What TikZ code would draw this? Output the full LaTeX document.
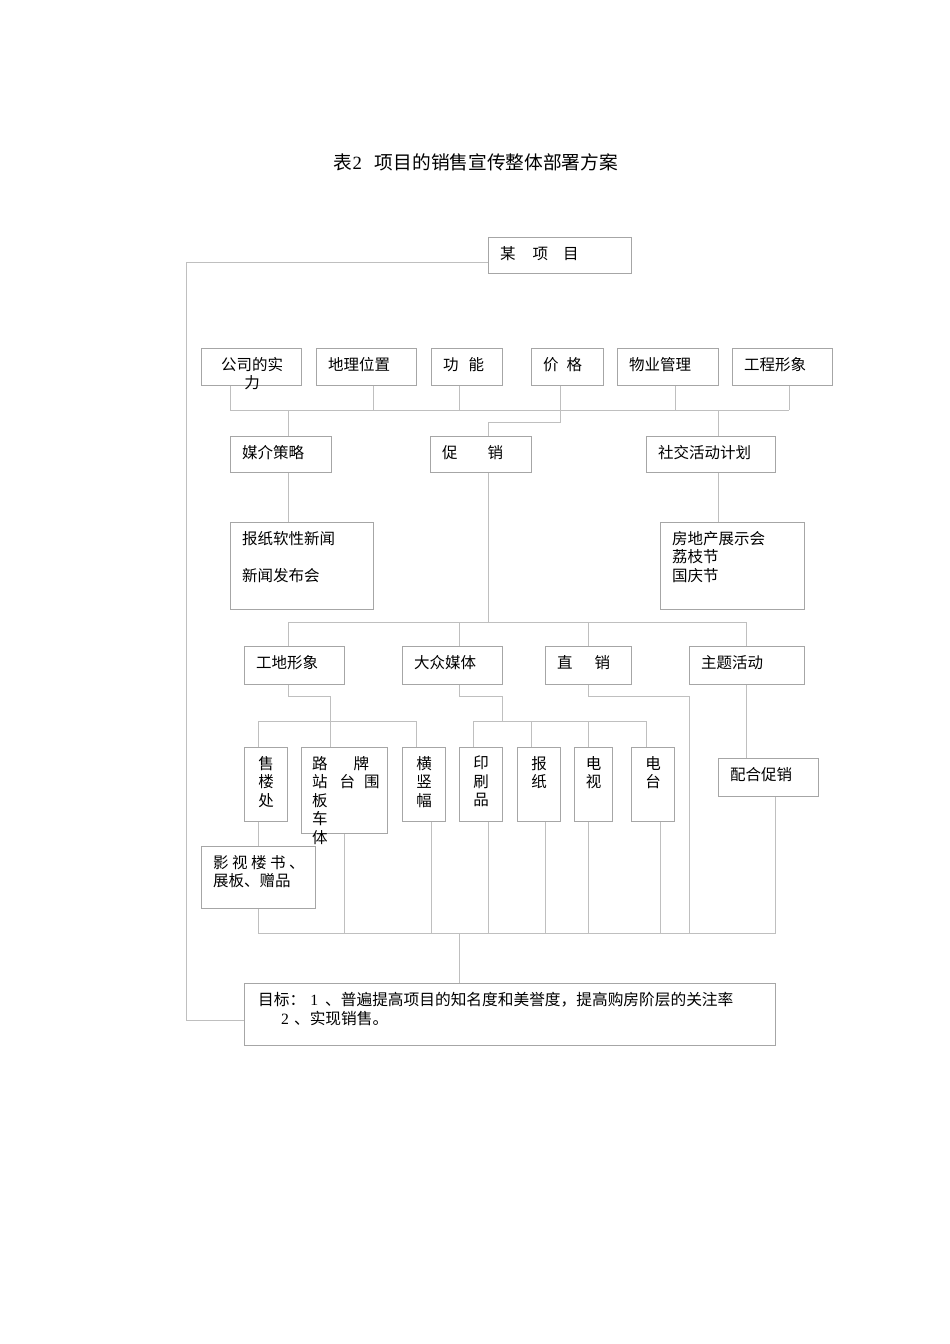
\documentclass[tikz,border=0pt]{standalone}
\usepackage{fontspec}
\setmainfont{Liberation Serif}
\newfontfamily\cjk{Noto Sans CJK SC}
\usetikzlibrary{positioning,calc}
\colorlet{boxgray}{gray!70}
\colorlet{linkgray}{gray!50}
\newcommand\cnfont{\fontsize{15.5}{18.5}\selectfont\cjk}

\begin{document}
\begin{tikzpicture}[x=1pt,y=-1pt,
  box/.style n args={2}{draw=boxgray, line width=1pt, anchor=north west, minimum width=#1pt, minimum height=#2pt, inner sep=0pt},
  txt/.style={anchor=north west, align=left, inner sep=0pt, xshift=12pt, yshift=-9pt, font=\cnfont},
  vtxt/.style={anchor=north, align=center, inner sep=0pt, yshift=-9pt, font=\cnfont},
  link/.style={draw=linkgray, line width=1pt}]
\useasboundingbox (0,0) rectangle (950,1344);

\node[font=\fontsize{18.7}{22}\selectfont\cjk, name=title] at (476,162) {表{\rmfamily 2}\hspace{13pt}项目的销售宣传整体部署方案};

\node[box={143}{36}, label={[txt]north west:某\hspace{17pt}项\hspace{15pt}目}, name=proj] at (488,237) {};

\node[box={100}{37}, label={[txt, xshift=8pt, align=center]north west:公司的实\\力}, name=gongsi] at (201,348) {};
\node[box={100}{37}, label={[txt]north west:地理位置}, name=diwei] at (316,348) {};
\node[box={71}{37}, label={[txt]north west:功\hspace{10pt}能}, name=gongneng] at (431,348) {};
\node[box={72}{37}, label={[txt]north west:价\hspace{8pt}格}, name=jiage] at (531,348) {};
\node[box={101}{37}, label={[txt]north west:物业管理}, name=wuye] at (617,348) {};
\node[box={100}{37}, label={[txt]north west:工程形象}, name=gongcheng] at (732,348) {};

\node[box={101}{36}, label={[txt]north west:媒介策略}, name=meijie] at (230,436) {};
\node[box={101}{36}, label={[txt]north west:促\hspace{30pt}销}, name=cuxiao] at (430,436) {};
\node[box={129}{36}, label={[txt]north west:社交活动计划}, name=shejiao] at (646,436) {};

\node[box={143}{87}, label={[txt]north west:报纸软性新闻\\[19pt]新闻发布会}, name=baozhi] at (230,522) {};
\node[box={144}{87}, label={[txt]north west:房地产展示会\\荔枝节\\国庆节}, name=fangdichan] at (660,522) {};

\node[box={100}{38}, label={[txt]north west:工地形象}, name=gongdi] at (244,646) {};
\node[box={100}{38}, label={[txt]north west:大众媒体}, name=dazhong] at (402,646) {};
\node[box={86}{38}, label={[txt]north west:直\hspace{22pt}销}, name=zhixiao] at (545,646) {};
\node[box={115}{38}, label={[txt]north west:主题活动}, name=zhuti] at (689,646) {};

\node[box={43}{74}, label={[vtxt]north:售\\楼\\处}, name=shoulou] at (244,747) {};
\node[box={86}{86}, label={[txt, xshift=-1pt]north west:路\hspace{26pt}牌\\站\hspace{12pt}台\hspace{9pt}围\\板\\车\\体}, name=lupai] at (301,747) {};
\node[box={43}{74}, label={[vtxt]north:横\\竖\\幅}, name=hengshu] at (402,747) {};
\node[box={43}{74}, label={[vtxt]north:印\\刷\\品}, name=yinshua] at (459,747) {};
\node[box={43}{74}, label={[vtxt]north:报\\纸}, name=bz] at (517,747) {};
\node[box={38}{74}, label={[vtxt]north:电\\视}, name=dianshi] at (574,747) {};
\node[box={43}{74}, label={[vtxt]north:电\\台}, name=diantai] at (631,747) {};
\node[box={100}{38}, label={[txt]north west:配合促销}, name=peihe] at (718,758) {};

\node[box={114}{62}, label={[txt]north west:影\hspace{3.5pt}视\hspace{3.5pt}楼\hspace{3.5pt}书\hspace{3.5pt}、\\展板、赠品}, name=yingshi] at (201,846) {};

\node[box={531}{62}, label={[txt, xshift=2pt, font=\fontsize{15.7}{18.5}\selectfont\cjk]north west:目标：\hspace{5pt}{\rmfamily 1}\hspace{7pt}、普遍提高项目的知名度和美誉度，提高购房阶层的关注率\\\hspace{23pt}{\rmfamily 2}\hspace{5pt}、实现销售。}, name=goal] at (244,983) {};

% left rail from the project to the goal
\coordinate (rail) at (186,0);
\coordinate (projout) at ([yshift=12pt]proj.south west);
\coordinate (goalin) at ([yshift=-6pt]goal.west);
\draw[link] (projout) -- (projout -| rail) -- (goalin -| rail) -- (goalin);

% factors
\coordinate (bar1) at (0,410);
\foreach \n/\x in {gongsi/230,diwei/373,gongneng/459,jiage/560,wuye/675,gongcheng/789}
  \draw[link] (\n.south -| \x,0) -- (bar1 -| \x,0);
\draw[link] (bar1 -| 230,0) -- (bar1 -| 789,0);
\coordinate (kink) at (488,422);
\draw[link] (jiage.south -| 560,0) |- (kink) -- (cuxiao.north -| kink);
\draw[link] (bar1 -| 288,0) -- (meijie.north -| 288,0);
\draw[link] (meijie.south -| 288,0) -- (baozhi.north -| 288,0);
\draw[link] (bar1 -| 718,0) -- (shejiao.north -| 718,0);
\draw[link] (shejiao.south -| 718,0) -- (fangdichan.north -| 718,0);

% promotion
\coordinate (bar2) at (0,622);
\draw[link] (cuxiao.south -| kink) -- (bar2 -| kink);
\draw[link] (bar2 -| 288,0) -- (bar2 -| 746,0);
\foreach \n/\x in {gongdi/288,dazhong/459.5,zhixiao/588,zhuti/746}
  \draw[link] (bar2 -| \x,0) -- (\n.north -| \x,0);

\coordinate (bar3) at (0,696);
\coordinate (bar4) at (0,721);
\draw[link] (gongdi.south -| 288,0) |- (bar3 -| 330.7,0) -- (lupai.north -| 330.7,0);
\draw[link] (bar4 -| 258,0) -- (bar4 -| 416.5,0);
\draw[link] (bar4 -| 258,0) -- (shoulou.north -| 258,0);
\draw[link] (bar4 -| 416.5,0) -- (hengshu.north -| 416.5,0);
\draw[link] (dazhong.south -| 459.5,0) |- (bar3 -| 502,0) -- (bar4 -| 502,0);
\draw[link] (bar4 -| 473,0) -- (bar4 -| 646,0);
\foreach \n/\x in {yinshua/473,bz/531,dianshi/588,diantai/646}
  \draw[link] (bar4 -| \x,0) -- (\n.north -| \x,0);

% everything meets at the goal
\coordinate (bar5) at (0,933);
\draw[link] (zhixiao.south -| 588,0) |- (bar3 -| 689,0) -- (bar5 -| 689,0);
\draw[link] (zhuti.south -| 746,0) -- (peihe.north -| 746,0);
\draw[link] (shoulou.south -| 258,0) -- (yingshi.north -| 258,0);
\foreach \n/\x in {yingshi/258,lupai/344,hengshu/431,yinshua/488.5,bz/545,dianshi/588,diantai/660.6,peihe/775.5}
  \draw[link] (\n.south -| \x,0) -- (bar5 -| \x,0);
\draw[link] (bar5 -| 258,0) -- (bar5 -| 775.5,0);
\draw[link] (bar5 -| 459.5,0) -- (goal.north -| 459.5,0);
\end{tikzpicture}
\end{document}
